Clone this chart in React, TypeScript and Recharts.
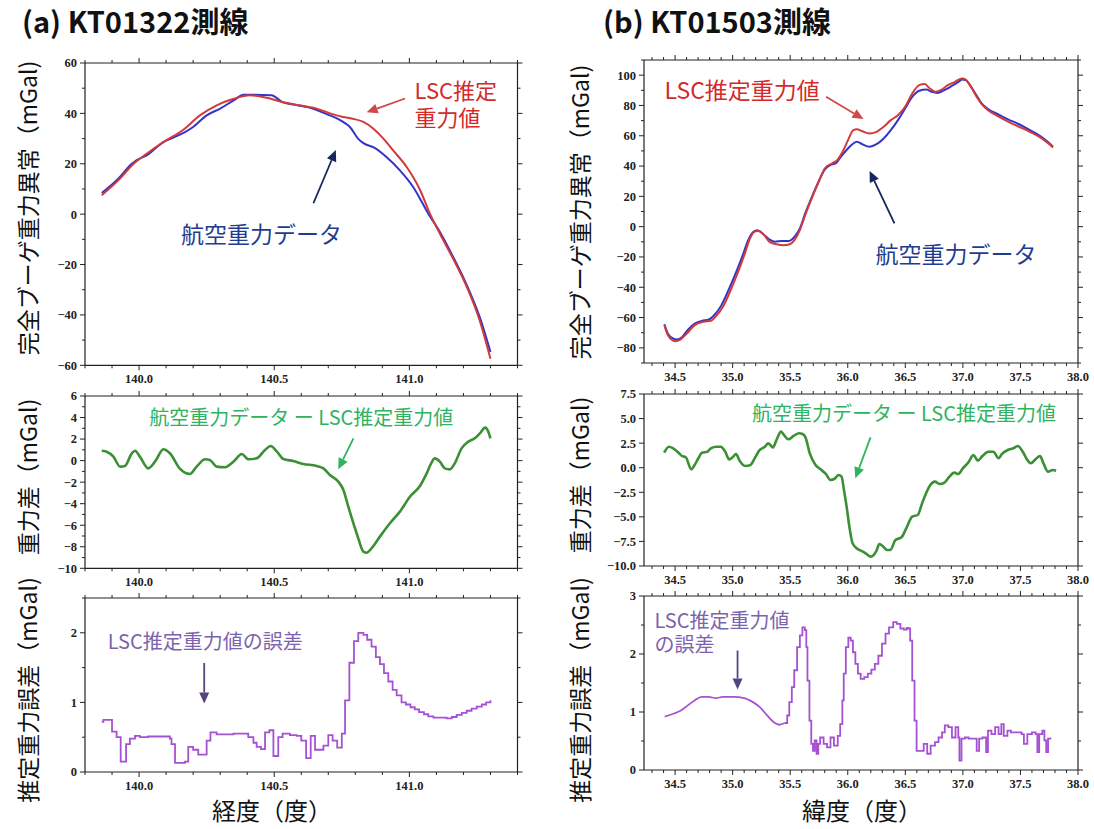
import React from 'react';
import { LineChart, Line, XAxis, YAxis } from 'recharts';

// ---------- (a) KT01322 ----------
const aTopBlueLon = [139.862, 139.923, 139.973, 139.99, 140.028, 140.09, 140.127, 140.17, 140.2, 140.25, 140.3, 140.35, 140.386, 140.42, 140.49, 140.53, 140.57, 140.63, 140.69, 140.755, 140.78, 140.81, 140.83, 140.87, 140.915, 140.965, 141.014, 141.07, 141.113, 141.162, 141.21, 141.26, 141.3];
const aTopBlueVal = [8.4, 14.1, 20.0, 21.4, 23.3, 28.6, 30.4, 32.6, 34.6, 39.2, 41.9, 45.2, 47.4, 47.4, 47.2, 44.5, 43.5, 42.3, 39.9, 36.6, 34.6, 30.0, 28.2, 26.4, 22.7, 17.4, 10.8, 0.2, -7.1, -17.0, -27.6, -40.8, -54.7];
const aTopRedLon = [139.862, 139.923, 139.98, 140.028, 140.09, 140.164, 140.225, 140.287, 140.35, 140.41, 140.472, 140.53, 140.595, 140.657, 140.719, 140.755, 140.79, 140.83, 140.867, 140.904, 140.94, 140.99, 141.04, 141.076, 141.113, 141.162, 141.21, 141.26, 141.3];
const aTopRedVal = [7.5, 13.4, 20.0, 24.0, 28.6, 33.5, 39.2, 43.2, 45.8, 47.2, 46.2, 44.5, 43.2, 41.9, 39.6, 38.6, 37.9, 36.6, 33.9, 30.0, 25.3, 18.7, 9.5, 0.2, -7.8, -17.7, -28.3, -42.2, -57.4];
const aDiffLon = [139.862, 139.88, 139.905, 139.93, 139.948, 139.973, 139.985, 140.003, 140.034, 140.059, 140.09, 140.114, 140.15, 140.188, 140.213, 140.244, 140.262, 140.287, 140.318, 140.349, 140.38, 140.404, 140.435, 140.466, 140.487, 140.51, 140.534, 140.57, 140.608, 140.657, 140.682, 140.706, 140.737, 140.756, 140.774, 140.793, 140.811, 140.83, 140.842, 140.86, 140.891, 140.928, 140.965, 141.002, 141.039, 141.064, 141.082, 141.094, 141.113, 141.131, 141.15, 141.168, 141.193, 141.218, 141.242, 141.261, 141.28, 141.292, 141.3];
const aDiffVal = [0.92, 0.83, 0.37, -0.56, -0.5, 0.68, 0.92, 0.37, -0.72, -0.1, 1.05, 0.68, -0.72, -1.24, -0.56, 0.12, 0.06, -0.56, -0.62, -0.1, 0.61, 0.12, 0.21, 0.99, 1.36, 0.83, 0.15, -0.04, -0.31, -0.5, -0.72, -1.34, -1.95, -2.73, -4.28, -5.82, -7.22, -8.45, -8.55, -8.14, -7.06, -5.82, -4.74, -3.35, -2.36, -1.18, -0.19, 0.21, -0.1, -0.72, -0.81, -0.25, 1.14, 1.76, 2.07, 2.53, 3.06, 2.69, 2.07];
const aErrLon = [139.862, 139.868, 139.9, 139.917, 139.932, 139.952, 139.966, 139.985, 140.003, 140.034, 140.114, 140.12, 140.133, 140.17, 140.182, 140.2, 140.219, 140.25, 140.264, 140.287, 140.349, 140.404, 140.423, 140.435, 140.451, 140.466, 140.482, 140.497, 140.515, 140.531, 140.558, 140.583, 140.6, 140.618, 140.635, 140.651, 140.682, 140.7, 140.716, 140.733, 140.75, 140.762, 140.778, 140.795, 140.811, 140.83, 140.844, 140.86, 140.876, 140.891, 140.906, 140.922, 140.938, 140.953, 140.971, 140.987, 141.004, 141.02, 141.036, 141.054, 141.07, 141.089, 141.138, 141.157, 141.175, 141.194, 141.212, 141.23, 141.249, 141.268, 141.284, 141.3];
const aErrVal = [0.72, 0.75, 0.58, 0.5, 0.15, 0.4, 0.48, 0.52, 0.5, 0.51, 0.48, 0.4, 0.13, 0.15, 0.36, 0.32, 0.25, 0.45, 0.57, 0.54, 0.55, 0.5, 0.42, 0.36, 0.33, 0.57, 0.6, 0.23, 0.5, 0.55, 0.53, 0.52, 0.45, 0.2, 0.52, 0.32, 0.38, 0.53, 0.45, 0.35, 0.55, 1.03, 1.57, 1.88, 2.0, 1.97, 1.9, 1.8, 1.65, 1.55, 1.42, 1.3, 1.18, 1.1, 1.0, 0.97, 0.93, 0.9, 0.86, 0.83, 0.8, 0.78, 0.77, 0.79, 0.82, 0.85, 0.88, 0.91, 0.94, 0.97, 1.0, 1.03];

// ---------- (b) KT01503 ----------
const bTopBlueLat = [34.407, 34.438, 34.485, 34.515, 34.562, 34.608, 34.67, 34.732, 34.794, 34.84, 34.903, 34.964, 35.026, 35.088, 35.135, 35.181, 35.212, 35.259, 35.32, 35.367, 35.429, 35.491, 35.537, 35.584, 35.63, 35.677, 35.739, 35.8, 35.847, 35.894, 35.94, 36.002, 36.048, 36.079, 36.126, 36.188, 36.25, 36.312, 36.374, 36.436, 36.498, 36.56, 36.621, 36.683, 36.73, 36.776, 36.838, 36.9, 36.962, 36.993, 37.024, 37.071, 37.117, 37.163, 37.225, 37.303, 37.396, 37.489, 37.582, 37.675, 37.737, 37.783];
const bTopBlueVal = [-64.4, -70.6, -73.9, -74.5, -72.8, -68.4, -64.0, -62.2, -61.3, -58.5, -51.8, -41.9, -30.9, -18.8, -8.9, -3.4, -2.3, -4.5, -8.5, -10.0, -9.4, -9.4, -6.7, -1.2, 8.7, 17.5, 28.5, 37.7, 40.6, 41.7, 46.1, 51.6, 54.9, 56.0, 54.4, 52.7, 54.4, 58.2, 63.7, 70.3, 78.0, 85.7, 89.7, 90.5, 89.0, 88.3, 90.1, 92.7, 95.6, 97.1, 96.7, 92.3, 86.8, 81.3, 77.3, 74.3, 70.7, 67.6, 63.7, 59.7, 56.0, 52.7];
const bTopRedLat = [34.407, 34.438, 34.5, 34.546, 34.608, 34.67, 34.748, 34.81, 34.856, 34.918, 34.98, 35.042, 35.104, 35.15, 35.197, 35.228, 35.274, 35.32, 35.382, 35.444, 35.491, 35.537, 35.584, 35.63, 35.692, 35.754, 35.8, 35.863, 35.909, 35.955, 36.002, 36.048, 36.079, 36.126, 36.188, 36.25, 36.312, 36.374, 36.436, 36.498, 36.56, 36.621, 36.668, 36.714, 36.761, 36.807, 36.869, 36.931, 36.993, 37.024, 37.071, 37.117, 37.163, 37.225, 37.303, 37.396, 37.489, 37.582, 37.675, 37.737, 37.783];
const bTopRedVal = [-65.0, -71.7, -75.6, -74.5, -70.1, -65.0, -62.8, -62.2, -59.1, -52.5, -42.4, -30.9, -18.2, -7.8, -3.0, -2.8, -5.6, -10.0, -11.6, -12.2, -11.8, -8.9, -2.3, 7.6, 19.7, 30.7, 38.4, 41.7, 43.9, 49.4, 57.1, 63.7, 64.3, 63.0, 61.5, 62.6, 65.9, 70.3, 73.6, 79.1, 87.9, 93.4, 94.1, 91.2, 89.0, 90.1, 93.4, 95.6, 97.8, 97.1, 92.3, 86.1, 80.9, 76.5, 72.9, 69.2, 65.9, 62.6, 58.8, 55.3, 52.3];
const bDiffLat = [34.405, 34.446, 34.483, 34.53, 34.561, 34.593, 34.64, 34.67, 34.702, 34.733, 34.78, 34.81, 34.86, 34.896, 34.936, 34.97, 35.0, 35.03, 35.06, 35.11, 35.155, 35.196, 35.23, 35.28, 35.31, 35.35, 35.383, 35.42, 35.445, 35.483, 35.53, 35.577, 35.608, 35.633, 35.67, 35.72, 35.764, 35.81, 35.85, 35.89, 35.92, 35.946, 35.967, 35.99, 36.014, 36.04, 36.077, 36.114, 36.155, 36.2, 36.25, 36.274, 36.31, 36.34, 36.37, 36.414, 36.467, 36.508, 36.56, 36.608, 36.646, 36.686, 36.717, 36.758, 36.796, 36.84, 36.883, 36.927, 36.958, 37.0, 37.046, 37.093, 37.13, 37.17, 37.22, 37.264, 37.31, 37.34, 37.39, 37.436, 37.477, 37.52, 37.56, 37.59, 37.63, 37.67, 37.7, 37.74, 37.78, 37.81];
const bDiffVal = [1.53, 2.14, 1.97, 1.53, 1.19, 1.06, -0.16, 0.28, 0.96, 1.53, 1.63, 1.97, 2.14, 2.14, 1.63, 0.85, 1.06, 1.4, 0.72, 0.18, 0.28, 1.06, 1.74, 2.14, 2.48, 2.07, 2.89, 3.67, 3.33, 2.89, 3.23, 3.5, 3.43, 3.09, 1.46, 0.28, -0.16, -0.64, -1.25, -1.08, -0.74, -0.91, -2.27, -3.96, -6.0, -7.62, -8.2, -8.44, -8.71, -9.05, -8.44, -7.76, -8.03, -8.37, -8.37, -7.35, -7.08, -6.17, -4.98, -4.81, -3.62, -2.44, -1.76, -1.42, -1.66, -1.52, -0.91, -0.5, -0.64, -0.06, 0.52, 1.29, 0.72, 1.19, 1.63, 1.63, 0.96, 1.4, 1.8, 1.97, 2.21, 1.63, 0.79, 0.45, 0.85, 1.19, 0.45, -0.4, -0.23, -0.3];
const bErrSmoothLat = [34.41, 34.485, 34.547, 34.608, 34.67, 34.731, 34.792, 34.854, 34.915, 35.007, 35.1, 35.176, 35.238, 35.3, 35.36, 35.406, 35.452];
const bErrSmoothVal = [0.92, 0.97, 1.02, 1.11, 1.2, 1.26, 1.26, 1.24, 1.26, 1.26, 1.24, 1.17, 1.08, 0.94, 0.82, 0.78, 0.81];
const bErrStepLat = [35.452, 35.474, 35.492, 35.514, 35.535, 35.56, 35.584, 35.606, 35.627, 35.64, 35.65, 35.667, 35.683, 35.698, 35.713, 35.729, 35.744, 35.76, 35.79, 35.82, 35.85, 35.88, 35.913, 35.934, 35.953, 35.965, 35.983, 36.005, 36.026, 36.045, 36.066, 36.088, 36.112, 36.143, 36.174, 36.205, 36.235, 36.266, 36.297, 36.328, 36.358, 36.395, 36.426, 36.457, 36.487, 36.512, 36.527, 36.542, 36.56, 36.58, 36.598, 36.635, 36.66, 36.69, 36.72, 36.758, 36.788, 36.819, 36.843, 36.874, 36.905, 36.936, 36.96, 36.97, 36.988, 37.018, 37.05, 37.095, 37.12, 37.141, 37.17, 37.202, 37.218, 37.248, 37.28, 37.31, 37.334, 37.355, 37.387, 37.417, 37.463, 37.51, 37.53, 37.56, 37.6, 37.632, 37.647, 37.663, 37.69, 37.708, 37.724, 37.74, 37.76];
const bErrStepVal = [0.81, 0.94, 1.17, 1.43, 1.72, 2.12, 2.32, 2.46, 2.41, 2.12, 1.54, 0.85, 0.45, 0.33, 0.51, 0.28, 0.45, 0.56, 0.45, 0.39, 0.56, 0.42, 0.59, 0.79, 1.2, 1.66, 2.12, 2.28, 2.23, 2.03, 1.83, 1.66, 1.57, 1.6, 1.66, 1.73, 1.83, 1.97, 2.18, 2.35, 2.46, 2.55, 2.52, 2.44, 2.42, 2.45, 2.44, 2.23, 1.54, 0.85, 0.33, 0.33, 0.45, 0.28, 0.42, 0.48, 0.56, 0.65, 0.77, 0.74, 0.56, 0.74, 0.56, 0.16, 0.54, 0.56, 0.54, 0.54, 0.33, 0.54, 0.56, 0.31, 0.68, 0.62, 0.74, 0.62, 0.79, 0.59, 0.68, 0.65, 0.65, 0.62, 0.45, 0.62, 0.65, 0.62, 0.31, 0.62, 0.68, 0.51, 0.31, 0.54, 0.56];

// ---------- ticks ----------
const aLonMajor = [140.0, 140.5, 141.0];
const bLatMajor = [34.5, 35.0, 35.5, 36.0, 36.5, 37.0, 37.5, 38.0];
const aTopMajor = [-60, -40, -20, 0, 20, 40, 60];
const aDiffMajor = [-10, -8, -6, -4, -2, 0, 2, 4, 6];
const aErrMajor = [0, 1, 2];
const bTopMajor = [-80, -60, -40, -20, 0, 20, 40, 60, 80, 100];
const bDiffMajor = [-10, -7.5, -5, -2.5, 0, 2.5, 5, 7.5];
const bErrMajor = [0, 1, 2, 3];

const range = (a: number, b: number, s: number) => {
  const out: number[] = [];
  const n = Math.round((b - a) / s);
  for (let i = 0; i <= n; i++) out.push(+(a + i * s).toFixed(4));
  return out;
};

const pairs = (xs: number[], ys: number[]) => xs.map((x, i) => ({ x, y: ys[i] }));

type Geo = { left: number; top: number; w: number; h: number; xd: [number, number]; yd: [number, number] };
const gA1: Geo = { left: 85, top: 62.7, w: 432.5, h: 302.3, xd: [139.8, 141.4], yd: [-60, 60] };
const gA2: Geo = { left: 85, top: 396, w: 432.5, h: 172.3, xd: [139.8, 141.4], yd: [-10, 6] };
const gA3: Geo = { left: 85, top: 598.3, w: 432.5, h: 174, xd: [139.8, 141.4], yd: [0, 2.5] };
const gB1: Geo = { left: 643.5, top: 60, w: 434, h: 303, xd: [34.23, 38.0], yd: [-90, 110] };
const gB2: Geo = { left: 643.5, top: 394, w: 434, h: 172, xd: [34.23, 38.0], yd: [-10, 7.5] };
const gB3: Geo = { left: 643.5, top: 596, w: 434, h: 174, xd: [34.23, 38.0], yd: [0, 3] };

const TICK_FONT = "'Liberation Serif', 'Times New Roman', serif";
const JP_FONT = "'Noto Sans CJK JP', 'Noto Sans', sans-serif";
const AX = '#222';
const TICK_SIZE = 12.5;

const minus = (s: string) => s.replace('-', '\u2212');
const fInt = (v: number) => minus(String(Math.round(v)));
const f1 = (v: number) => minus(v.toFixed(1));

const YW = 50, RW = 12, TH = 12, XH = 30;

type Series = { data: { x: number; y: number }[]; color: string; width: number; kind: 'monotone' | 'stepAfter' | 'linear' };

function Panel(props: {
  geo: Geo; xMajor: number[]; xAll: number[]; yMajor: number[]; yAll: number[];
  xFmt: (v: number) => string; yFmt: (v: number) => string; series: Series[];
}) {
  const { geo, xMajor, xAll, yMajor, yAll, xFmt, yFmt, series } = props;
  const isMaj = (arr: number[], v: number) => arr.some((m) => Math.abs(m - v) < 1e-6);
  const axisLine = { stroke: AX, strokeWidth: 1.2 };
  const bottomTick = (p: any) => {
    const { x, y, payload } = p;
    const maj = isMaj(xMajor, payload.value);
    return (
      <g>
        <line x1={x} x2={x} y1={y} y2={y + (maj ? 5 : 3)} stroke={AX} strokeWidth={1} />
        {maj && (
          <text x={x} y={y + 18} textAnchor="middle" fontFamily={TICK_FONT} fontWeight="bold" fontSize={TICK_SIZE} fill={AX}>
            {xFmt(payload.value)}
          </text>
        )}
      </g>
    );
  };
  const topTick = (p: any) => {
    const { x, y, payload } = p;
    const maj = isMaj(xMajor, payload.value);
    return <line x1={x} x2={x} y1={y} y2={y - (maj ? 5 : 3)} stroke={AX} strokeWidth={1} />;
  };
  const leftTick = (p: any) => {
    const { x, y, payload } = p;
    const maj = isMaj(yMajor, payload.value);
    return (
      <g>
        <line x1={x} x2={x - (maj ? 5 : 3)} y1={y} y2={y} stroke={AX} strokeWidth={1} />
        {maj && (
          <text x={x - 8} y={y} dy="0.35em" textAnchor="end" fontFamily={TICK_FONT} fontWeight="bold" fontSize={TICK_SIZE} fill={AX}>
            {yFmt(payload.value)}
          </text>
        )}
      </g>
    );
  };
  const rightTick = (p: any) => {
    const { x, y, payload } = p;
    const maj = isMaj(yMajor, payload.value);
    return <line x1={x} x2={x + (maj ? 5 : 3)} y1={y} y2={y} stroke={AX} strokeWidth={1} />;
  };
  return (
    <div style={{ position: 'absolute', left: geo.left - YW, top: geo.top - TH }}>
      <LineChart width={geo.w + YW + RW} height={geo.h + TH + XH} margin={{ top: 0, right: 0, bottom: 0, left: 0 }}>
        <XAxis xAxisId="b" type="number" dataKey="x" domain={geo.xd} allowDataOverflow ticks={xAll} interval={0}
          tickSize={0} tickMargin={0} height={XH} axisLine={axisLine} tickLine={false} tick={bottomTick} />
        <XAxis xAxisId="t" orientation="top" type="number" dataKey="x" domain={geo.xd} allowDataOverflow ticks={xAll} interval={0}
          tickSize={0} tickMargin={0} height={TH} axisLine={axisLine} tickLine={false} tick={topTick} />
        <YAxis yAxisId="l" type="number" domain={geo.yd} allowDataOverflow ticks={yAll} interval={0}
          tickSize={0} tickMargin={0} width={YW} axisLine={axisLine} tickLine={false} tick={leftTick} />
        <YAxis yAxisId="r" orientation="right" type="number" domain={geo.yd} allowDataOverflow ticks={yAll} interval={0}
          tickSize={0} tickMargin={0} width={RW} axisLine={axisLine} tickLine={false} tick={rightTick} />
        {series.map((s, i) => (
          <Line key={i} xAxisId="b" yAxisId="l" data={s.data} dataKey="y" type={s.kind} stroke={s.color}
            strokeWidth={s.width} dot={false} activeDot={false} isAnimationActive={false} />
        ))}
      </LineChart>
    </div>
  );
}

const px = (g: Geo, x: number) => g.left + ((x - g.xd[0]) / (g.xd[1] - g.xd[0])) * g.w;
const py = (g: Geo, y: number) => g.top + ((g.yd[1] - y) / (g.yd[1] - g.yd[0])) * g.h;

function Arrow({ g, x1, y1, x2, y2, color }: { g: Geo; x1: number; y1: number; x2: number; y2: number; color: string }) {
  const ax = px(g, x1), ay = py(g, y1), bx = px(g, x2), by = py(g, y2);
  const ang = Math.atan2(by - ay, bx - ax);
  const L = 11, W = 5;
  const cx = bx - L * Math.cos(ang), cy = by - L * Math.sin(ang);
  const p1 = `${bx},${by}`;
  const p2 = `${cx + W * Math.sin(ang)},${cy - W * Math.cos(ang)}`;
  const p3 = `${cx - W * Math.sin(ang)},${cy + W * Math.cos(ang)}`;
  return (
    <g>
      <line x1={ax} y1={ay} x2={cx} y2={cy} stroke={color} strokeWidth={1.8} />
      <polygon points={`${p1} ${p2} ${p3}`} fill={color} />
    </g>
  );
}

function Label({ g, x, y, lines, color, size, gap }: { g: Geo; x: number; y: number; lines: string[]; color: string; size: number; gap?: number }) {
  const X = px(g, x);
  return (
    <text x={X} y={py(g, y)} dy="0.36em" fontFamily={JP_FONT} fontSize={size} fill={color}>
      {lines.map((t, i) => (
        <tspan key={i} x={X} dy={i === 0 ? '0.36em' : gap ?? size * 1.25}>{t}</tspan>
      ))}
    </text>
  );
}

const RED_T = '#d42a2a', RED_A = '#d04848', NAVY_T = '#1f3d8f', NAVY_A = '#15285e';
const GREEN_T = '#2fb35e', GREEN_A = '#2fb35e', PURP_T = '#7c63ad', PURP_A = '#55457f';
const BLUE_L = '#3434c8', RED_L = '#d23a3a', GREEN_L = '#3b8f34', PURP_L = '#a552d2';

function YTitle({ x, y, text }: { x: number; y: number; text: string }) {
  return (
    <text x={x} y={y} transform={`rotate(-90 ${x} ${y})`} textAnchor="middle" dy="0.36em" fontFamily={JP_FONT} fontSize={23} fill="#111">
      {text}
    </text>
  );
}

export default function App() {
  const aXAll = range(139.8, 141.4, 0.1);
  const bXAll = range(34.3, 38.0, 0.1);
  return (
    <div style={{ position: 'absolute', left: 0, top: 0, width: 1094, height: 829, background: '#fff', overflow: 'hidden' }}>
      <Panel geo={gA1} xMajor={aLonMajor} xAll={aXAll} yMajor={aTopMajor} yAll={range(-60, 60, 10)} xFmt={f1} yFmt={fInt}
        series={[
          { data: pairs(aTopBlueLon, aTopBlueVal), color: BLUE_L, width: 2, kind: 'monotone' },
          { data: pairs(aTopRedLon, aTopRedVal), color: RED_L, width: 2, kind: 'monotone' },
        ]} />
      <Panel geo={gA2} xMajor={aLonMajor} xAll={aXAll} yMajor={aDiffMajor} yAll={range(-10, 6, 1)} xFmt={f1} yFmt={fInt}
        series={[{ data: pairs(aDiffLon, aDiffVal), color: GREEN_L, width: 2.6, kind: 'monotone' }]} />
      <Panel geo={gA3} xMajor={aLonMajor} xAll={aXAll} yMajor={aErrMajor} yAll={range(0, 2.5, 0.5)} xFmt={f1} yFmt={fInt}
        series={[{ data: pairs(aErrLon, aErrVal), color: PURP_L, width: 1.8, kind: 'stepAfter' }]} />

      <Panel geo={gB1} xMajor={bLatMajor} xAll={bXAll} yMajor={bTopMajor} yAll={range(-90, 110, 10)} xFmt={f1} yFmt={fInt}
        series={[
          { data: pairs(bTopBlueLat, bTopBlueVal), color: BLUE_L, width: 2, kind: 'monotone' },
          { data: pairs(bTopRedLat, bTopRedVal), color: RED_L, width: 2, kind: 'monotone' },
        ]} />
      <Panel geo={gB2} xMajor={bLatMajor} xAll={bXAll} yMajor={bDiffMajor} yAll={range(-10, 7.5, 2.5)} xFmt={f1} yFmt={f1}
        series={[{ data: pairs(bDiffLat, bDiffVal), color: GREEN_L, width: 2.6, kind: 'monotone' }]} />
      <Panel geo={gB3} xMajor={bLatMajor} xAll={bXAll} yMajor={bErrMajor} yAll={range(0, 3, 0.5)} xFmt={f1} yFmt={fInt}
        series={[
          { data: pairs(bErrSmoothLat, bErrSmoothVal), color: PURP_L, width: 1.8, kind: 'monotone' },
          { data: pairs(bErrStepLat, bErrStepVal), color: PURP_L, width: 1.8, kind: 'stepAfter' },
        ]} />

      <svg width={1094} height={829} style={{ position: 'absolute', left: 0, top: 0, pointerEvents: 'none' }}>
        <text x={22} y={33} fontFamily={JP_FONT} fontWeight="bold" fontSize={29} fill="#111">(a) KT01322測線</text>
        <text x={603} y={33} fontFamily={JP_FONT} fontWeight="bold" fontSize={29} fill="#111">(b) KT01503測線</text>

        <YTitle x={29} y={208} text="完全ブーゲ重力異常（mGal)" />
        <YTitle x={29} y={477} text="重力差（mGal)" />
        <YTitle x={29} y={690} text="推定重力誤差（mGal)" />
        <YTitle x={581} y={212} text="完全ブーゲ重力異常（mGal)" />
        <YTitle x={581} y={475} text="重力差（mGal)" />
        <YTitle x={581} y={690} text="推定重力誤差（mGal)" />

        <text x={272} y={811} dy="0.36em" textAnchor="middle" fontFamily={JP_FONT} fontSize={24} fill="#111">経度（度）</text>
        <text x={862} y={811} dy="0.36em" textAnchor="middle" fontFamily={JP_FONT} fontSize={24} fill="#111">緯度（度）</text>

        {/* (a) annotations */}
        <Label g={gA1} x={141.019} y={48.9} lines={['LSC推定', '重力値']} gap={27.5} color={RED_T} size={22} />
        <Arrow g={gA1} x1={140.984} y1={45.8} x2={140.842} y2={40.3} color={RED_A} />
        <Label g={gA1} x={140.155} y={-8.4} lines={['航空重力データ']} color={NAVY_T} size={23} />
        <Arrow g={gA1} x1={140.645} y1={4.2} x2={140.728} y2={25.3} color={NAVY_A} />
        <Label g={gA2} x={140.038} y={4.02} lines={['航空重力データ ー LSC推定重力値']} color={GREEN_T} size={20} />
        <Arrow g={gA2} x1={140.793} y1={2.07} x2={140.737} y2={-0.81} color={GREEN_A} />
        <Label g={gA3} x={139.884} y={1.87} lines={['LSC推定重力値の誤差']} color={PURP_T} size={20} />
        <Arrow g={gA3} x1={140.241} y1={1.57} x2={140.241} y2={0.99} color={PURP_A} />

        {/* (b) annotations */}
        <Label g={gB1} x={34.413} y={89.7} lines={['LSC推定重力値']} color={RED_T} size={23} />
        <Arrow g={gB1} x1={35.816} y1={85.7} x2={36.141} y2={71.0} color={RED_A} />
        <Label g={gB1} x={36.245} y={-18.2} lines={['航空重力データ']} color={NAVY_T} size={23} />
        <Arrow g={gB1} x1={36.41} y1={2.1} x2={36.194} y2={36.8} color={NAVY_A} />
        <Label g={gB2} x={35.172} y={5.47} lines={['航空重力データ ー LSC推定重力値']} color={GREEN_T} size={20} />
        <Arrow g={gB2} x1={36.202} y1={3.09} x2={36.07} y2={-1.08} color={GREEN_A} />
        <Label g={gB3} x={34.325} y={2.58} lines={['LSC推定重力値', 'の誤差']} gap={24.5} color={PURP_T} size={20} />
        <Arrow g={gB3} x1={35.047} y1={2.06} x2={35.047} y2={1.39} color={PURP_A} />
      </svg>
    </div>
  );
}
